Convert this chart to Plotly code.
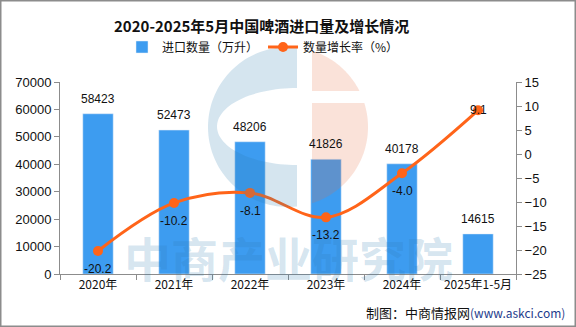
import numpy as np
import plotly.graph_objects as go

categories = ["2020年", "2021年", "2022年", "2023年", "2024年", "2025年1-5月"]
import_volume = [58423, 52473, 48206, 41826, 40178, 14615]
growth_rate = [-20.2, -10.2, -8.1, -13.2, -4.0, 9.1]
growth_labels = ["-20.2", "-10.2", "-8.1", "-13.2", "-4.0", "9.1"]

W, H = 576, 327
L, R, T, B = 60, 60, 82, 53
PW, PH = W - L - R, H - T - B

def px_to_paper(x, y):
    return (x - L) / PW, (H - B - y) / PH

def path_from_pixels(pts):
    s = ""
    for i, (x, y) in enumerate(pts):
        px, py = px_to_paper(x, y)
        s += ("M" if i == 0 else "L") + f"{px:.5f},{py:.5f} "
    return s + "Z"

BAR = "#3d9cf0"
LINE = "#ff6419"
CJK = "Noto Sans CJK SC"
NUM = "Liberation Sans"

fig = go.Figure()
fig.add_trace(go.Bar(
    x=categories, y=import_volume, name="进口数量（万升）",
    marker=dict(color=BAR), width=0.4, yaxis="y",
))
fig.add_trace(go.Scatter(
    x=categories, y=growth_rate, name="数量增长率（%）", yaxis="y2",
    mode="lines+markers", line=dict(color=LINE, width=3, shape="spline", smoothing=1.0),
    marker=dict(color=LINE, size=10),
))

annotations = []
for c, v in zip(categories, import_volume):
    annotations.append(dict(x=c, y=v, xref="x", yref="y", text=str(v), showarrow=False,
                            yanchor="bottom", yshift=6,
                            font=dict(family=NUM, size=12, color="#111")))
for i, (c, v, t) in enumerate(zip(categories, growth_rate, growth_labels)):
    annotations.append(dict(x=c, y=v, xref="x", yref="y2", text=t, showarrow=False,
                            yanchor="middle", yshift=(0 if i == len(categories) - 1 else -18),
                            font=dict(family=NUM, size=12, color="#111")))

# watermark text
wx, wy = px_to_paper(288, 256)
annotations.append(dict(x=wx, y=wy, xref="paper", yref="paper", text="<b>中商产业研究院</b>",
                        showarrow=False, yanchor="middle", valign="middle",
                        font=dict(family=CJK, size=47, color="rgba(46,123,176,0.2)")))
# title
annotations.append(dict(x=px_to_paper(261, 0)[0], y=px_to_paper(0, 25)[1], xref="paper", yref="paper",
                        text="<b>2020-2025年5月中国啤酒进口量及增长情况</b>", showarrow=False,
                        yanchor="middle",
                        font=dict(family=CJK, size=15, color="#111")))
# footer
fx, fy = px_to_paper(567, 312)
annotations.append(dict(x=fx, y=fy, xref="paper", yref="paper", xanchor="right", yanchor="middle",
                        text="制图：中商情报网<span style='color:#1f3c8c;font-size:12px'>(www.askci.com)</span>",
                        showarrow=False, font=dict(family=CJK, size=13, color="#111")))

# logo watermark shapes
cx, cy, r = 288, 127, 80
xg = 297
t0 = np.arccos((xg - cx) / r)
ang = np.linspace(-t0, -(2 * np.pi - t0), 80)
outer = [(cx + r * np.cos(a), cy + r * np.sin(a)) for a in ang]
icx, icy, ia, ib = 297, 126.5, 80, 38.5
iang = np.linspace(np.pi / 2, 3 * np.pi / 2, 60)
inner = [(icx + ia * np.cos(a), icy + ib * np.sin(a)) for a in iang]
blue_pts = outer + inner
shapes = [dict(type="path", xref="paper", yref="paper", path=path_from_pixels(blue_pts),
               fillcolor="#2e7bb0", opacity=0.2, line=dict(width=0), layer="above")]

xr = 312
ytop = cy - np.sqrt(r * r - (xr - cx) ** 2)
ybot = cy + np.sqrt(r * r - (xr - cx) ** 2)
top_pts = [(xr, ytop)] + [(cx + r * np.cos(a), cy + r * np.sin(a))
                           for a in np.linspace(np.arctan2(ytop - cy, xr - cx), np.arcsin((91 - cy) / r), 30)] + [(xr, 91)]
bot_pts = [(xr, 103)] + [(cx + r * np.cos(a), cy + r * np.sin(a))
                          for a in np.linspace(np.arcsin((103 - cy) / r), np.arctan2(ybot - cy, xr - cx), 50)]
for pts in (top_pts, bot_pts):
    shapes.append(dict(type="path", xref="paper", yref="paper", path=path_from_pixels(pts),
                       fillcolor="#e8703f", opacity=0.2, line=dict(width=0), layer="above"))

# outer border
bx0, by0 = px_to_paper(0.75, 326.25)
bx1, by1 = px_to_paper(575.25, 0.75)
shapes.append(dict(type="rect", xref="paper", yref="paper", x0=bx0, y0=by0, x1=bx1, y1=by1,
                   line=dict(color="#8c8c8c", width=1.5), fillcolor="rgba(0,0,0,0)", layer="above"))

axis_gray = "#8c8c8c"
fig.update_layout(
    width=W, height=H, margin=dict(l=L, r=R, t=T, b=B, autoexpand=False),
    paper_bgcolor="white", plot_bgcolor="white",
    showlegend=True,
    legend=dict(orientation="h", xref="container", yref="container", x=122 / W, y=1 - 47 / H,
                xanchor="left", yanchor="middle", font=dict(family=CJK, size=12, color="#111"),
                itemwidth=30, tracegroupgap=0, bgcolor="rgba(0,0,0,0)"),
    xaxis=dict(type="category", showline=True, linecolor=axis_gray, linewidth=1, ticks="outside",
               tickson="boundaries", ticklen=5, tickcolor=axis_gray, showgrid=False, tickangle=0,
               automargin=False, tickfont=dict(family=CJK, size=12, color="#111"), zeroline=False),
    yaxis=dict(range=[0, 70000], dtick=10000, tickformat="d", showline=True, linecolor=axis_gray,
               ticks="outside", ticklen=5, tickcolor=axis_gray, showgrid=False, zeroline=False,
               automargin=False, tickfont=dict(family=NUM, size=13, color="#111")),
    yaxis2=dict(range=[-25, 15], dtick=5, overlaying="y", side="right", showline=True,
                linecolor=axis_gray, ticks="outside", ticklen=5, tickcolor=axis_gray,
                automargin=False, showgrid=False, zeroline=False,
                tickfont=dict(family=NUM, size=13, color="#111")),
    annotations=annotations, shapes=shapes, hovermode=False,
)

fig.write_html("out.html")
